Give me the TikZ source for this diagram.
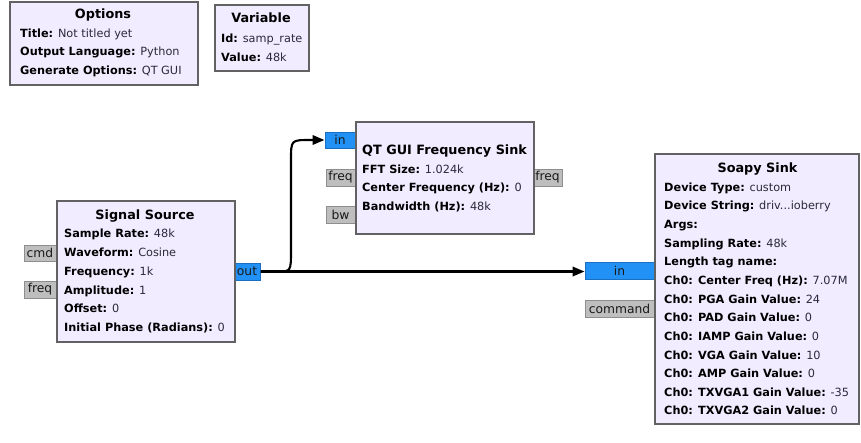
\documentclass[tikz,border=0pt]{standalone}
\usepackage{fontspec}
\setmainfont{DejaVu Sans}
\usetikzlibrary{arrows.meta}
\definecolor{blockfill}{HTML}{F1ECFF}
\definecolor{blockdraw}{HTML}{626262}
\definecolor{msgfill}{HTML}{BEBEBE}
\definecolor{msgdraw}{HTML}{8E8E8E}
\definecolor{strfill}{HTML}{2291F5}
\definecolor{strdraw}{HTML}{1A6FC0}
\definecolor{valcol}{HTML}{2A2A3A}
\tikzset{
  blk/.style={rectangle, draw=blockdraw, line width=2pt, fill=blockfill, inner sep=0pt, anchor=north west},
  msgport/.style={rectangle, draw=msgdraw, line width=1pt, fill=msgfill, inner sep=0pt, font=\fontsize{12.3}{13}\selectfont, text=black!90},
  strport/.style={rectangle, draw=strdraw, line width=1pt, fill=strfill, inner sep=0pt, font=\fontsize{12.3}{13}\selectfont, text=black!90},
  ttl/.style={anchor=base, inner sep=0pt, font=\fontsize{12.8}{14}\selectfont\bfseries},
  row/.style={anchor=base west, inner sep=0pt, font=\fontsize{11.3}{13}\selectfont, text=valcol},
  conn/.style={line width=2.1pt, draw=black},
  arr/.style={-{Triangle[length=12pt,width=9.5pt]}}
}
\newcommand{\kv}[2]{\textbf{\color{black}#1} #2}
\begin{document}
\begin{tikzpicture}[x=1pt,y=-1pt]
\useasboundingbox[fill=white] (0,0) rectangle (861,442);
% ports
\node[msgport, minimum width=32pt, minimum height=16pt] (sscmd) at (40,253) {cmd};
\node[msgport, minimum width=32pt, minimum height=17pt] (ssfreq) at (40,289.5) {freq};
\node[strport, minimum width=26pt, minimum height=17pt] (ssout) at (247,271.5) {out};
\node[strport, minimum width=30pt, minimum height=16pt] (qtin) at (340,140) {in};
\node[msgport, minimum width=29pt, minimum height=17pt] (qtfreqin) at (340.5,177.5) {freq};
\node[msgport, minimum width=29pt, minimum height=17pt] (qtbw) at (340.5,214.5) {bw};
\node[msgport, minimum width=29pt, minimum height=17pt] (qtfreqout) at (547.5,177.5) {freq};
\node[strport, minimum width=69pt, minimum height=17pt] (soin) at (619.5,270.5) {in};
\node[msgport, minimum width=69pt, minimum height=17pt] (socmd) at (619.5,308.5) {command};
% blocks
\node[blk, minimum width=188pt, minimum height=83pt] (opt) at (9,1) {};
\node[blk, minimum width=94pt, minimum height=66pt] (var) at (214,4) {};
\node[blk, minimum width=178pt, minimum height=141pt] (ss) at (56,200) {};
\node[blk, minimum width=178pt, minimum height=112pt] (qt) at (355,121) {};
\node[blk, minimum width=204pt, minimum height=270pt] (so) at (654,153) {};
% Options
\node[ttl] (optt) at (103,18.5) {Options};
\node[row] (opt1) at (20,37) {\kv{Title:}{Not titled yet}};
\node[row] (opt2) at (20,55.5) {\kv{Output Language:}{Python}};
\node[row] (opt3) at (20,74) {\kv{Generate Options:}{QT GUI}};
% Variable
\node[ttl] (vart) at (261,22.5) {Variable};
\node[row] (var1) at (221,42) {\kv{Id:}{samp\_rate}};
\node[row] (var2) at (221,61) {\kv{Value:}{48k}};
% Signal Source
\node[ttl] (sst) at (145,219.5) {Signal Source};
\node[row] (ss1) at (64,237.5) {\kv{Sample Rate:}{48k}};
\node[row] (ss2) at (64,256.5) {\kv{Waveform:}{Cosine}};
\node[row] (ss3) at (64,275) {\kv{Frequency:}{1k}};
\node[row] (ss4) at (64,294) {\kv{Amplitude:}{1}};
\node[row] (ss5) at (64,312.5) {\kv{Offset:}{0}};
\node[row] (ss6) at (64,331) {\kv{Initial Phase (Radians):}{0}};
% QT GUI Frequency Sink
\node[ttl, anchor=base west] (qtt) at (362,154.5) {QT GUI Frequency Sink};
\node[row] (qt1) at (362,173) {\kv{FFT Size:}{1.024k}};
\node[row] (qt2) at (362,191.5) {\kv{Center Frequency (Hz):}{0}};
\node[row] (qt3) at (362,210) {\kv{Bandwidth (Hz):}{48k}};
% Soapy Sink
\node[ttl] (sot) at (757.5,172.5) {Soapy Sink};
\node[row] (so1) at (664,191) {\kv{Device Type:}{custom}};
\node[row] (so2) at (664,209.5) {\kv{Device String:}{driv...ioberry}};
\node[row] (so3) at (664,228) {\kv{Args:}{}};
\node[row] (so4) at (664,247) {\kv{Sampling Rate:}{48k}};
\node[row] (so5) at (664,265.5) {\kv{Length tag name:}{}};
\node[row] (so6) at (664,284) {\kv{Ch0: Center Freq (Hz):}{7.07M}};
\node[row] (so7) at (664,303) {\kv{Ch0: PGA Gain Value:}{24}};
\node[row] (so8) at (664,321.5) {\kv{Ch0: PAD Gain Value:}{0}};
\node[row] (so9) at (664,340) {\kv{Ch0: IAMP Gain Value:}{0}};
\node[row] (so10) at (664,359) {\kv{Ch0: VGA Gain Value:}{10}};
\node[row] (so11) at (664,377.5) {\kv{Ch0: AMP Gain Value:}{0}};
\node[row] (so12) at (664,396) {\kv{Ch0: TXVGA1 Gain Value:}{-35}};
\node[row] (so13) at (664,414.5) {\kv{Ch0: TXVGA2 Gain Value:}{0}};
% connections
\coordinate (b1) at (277,271.5);
\coordinate (b2) at (291,250);
\coordinate (b3) at (291,160);
\coordinate (b4) at (310,140);
\draw[conn, arr] (ssout.east) -- (b1) .. controls (291,271.5) .. (b2) -- (b3) .. controls (291,140) .. (b4) -- (qtin.west);
\draw[conn, arr] (ssout.east) -- (soin.west |- ssout.east);
\end{tikzpicture}
\end{document}
